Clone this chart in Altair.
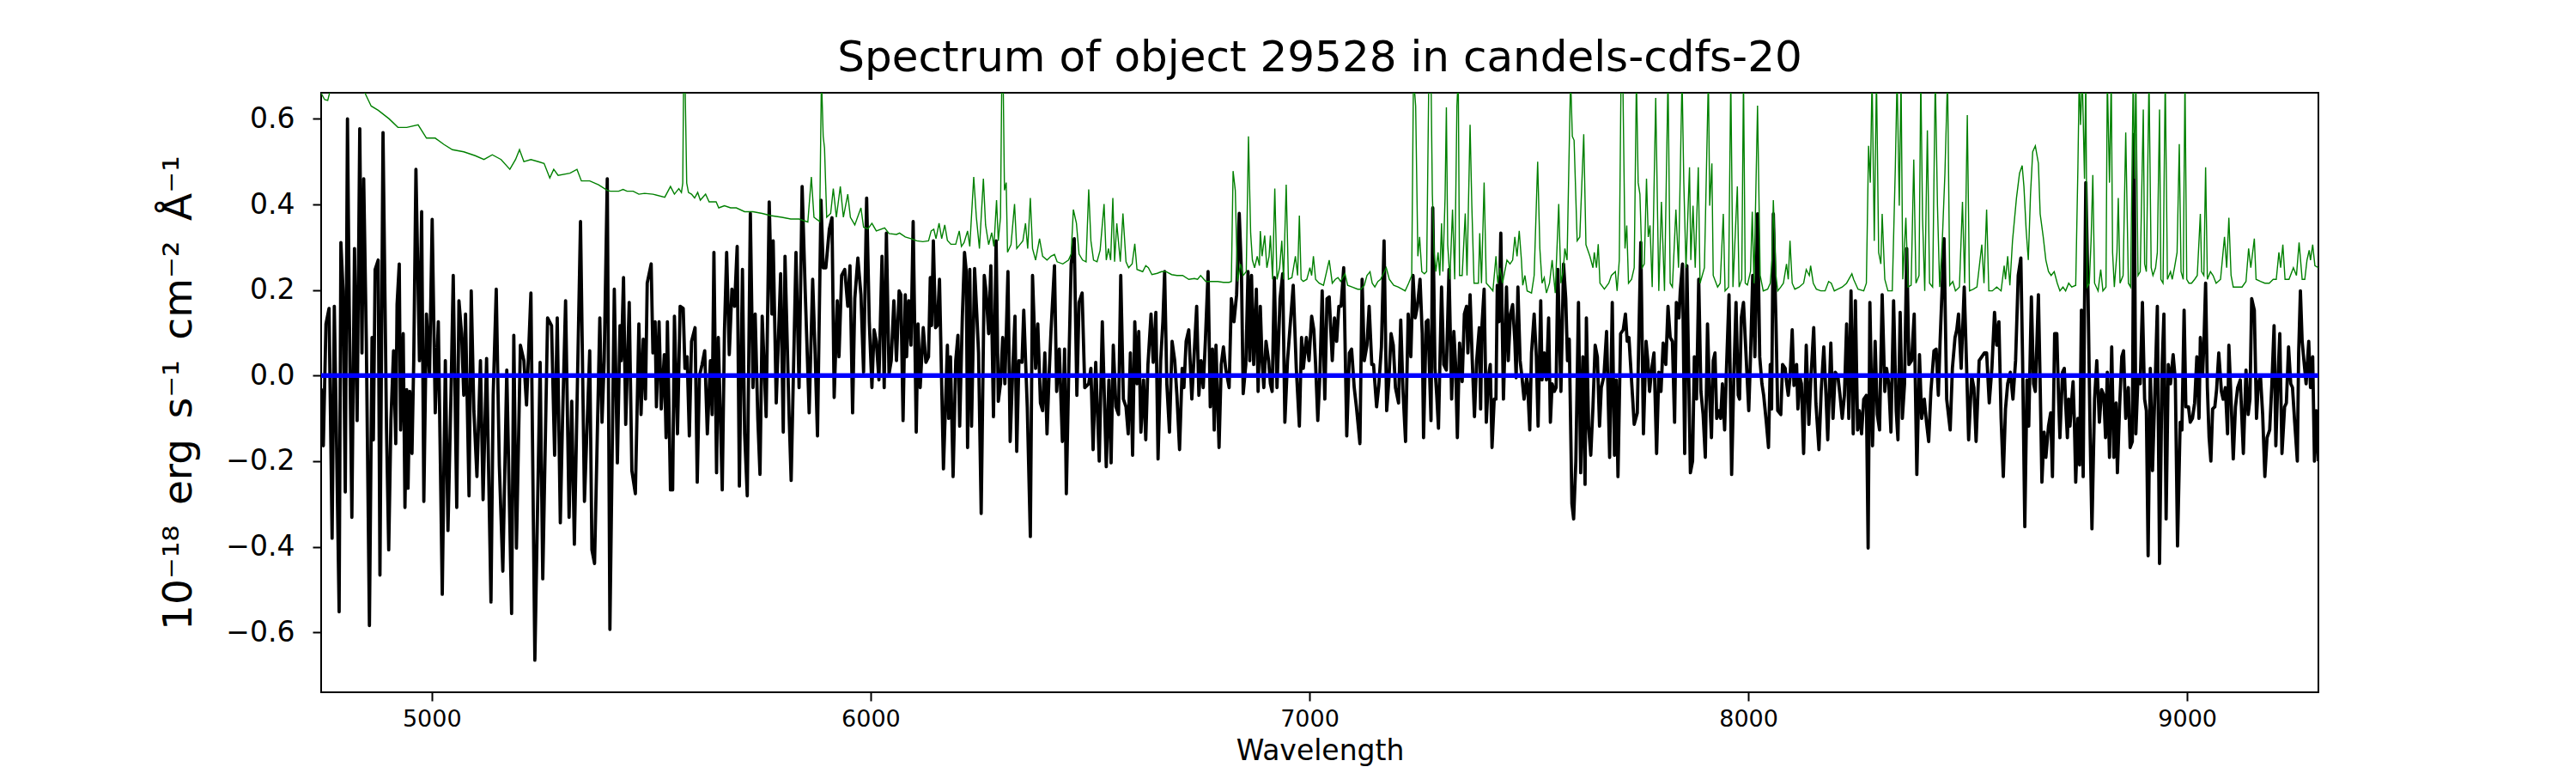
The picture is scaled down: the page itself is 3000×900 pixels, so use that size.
import altair as alt
import pandas as pd

# ---------------- data ----------------
flux_wave = [
 4748,4753,4759,4766,4773,4778,4782,4789,4793,4798,4803,4808,4812,4818,4824,4830,4836,4841,4845,4851,
 4858,4864,4867,4871,4878,4882,4889,4897,4902,4907,4913,4918,4921,4926,4929,4935,4939,4943,4946,4950,
 4955,4959,4964,4972,4977,4982,4988,4995,5001,5008,5015,5024,5031,5037,5044,5049,5057,5062,5068,5073,
 5077,5085,5090,5096,5103,5111,5117,5125,5135,5140,5147,5154,5162,5171,5182,5187,5193,5202,5210,5216,
 5226,5235,5247,5253,5264,5273,5280,5286,5293,5298,5305,5313,5319,5325,5339,5348,5360,5365,5371,5383,
 5388,5393,5400,5406,
 5416,5423,5429,5432,5437,5442,5450,5456,5464,5472,5477,5482,5487,5491,5500,5504,5509,5512,5518,5523,
 5530,5534,5537,5544,5549,5553,5560,5566,5573,5577,5582,5587,5592,5600,5605,5610,5616,5622,5628,5635,
 5639,5643,5649,5653,5662,5667,5672,5678,5684,5690,5696,5701,5708,5713,5719,5726,5732,5737,5743,5748,
 5753,5762,5769,5775,5778,5785,5795,5801,5805,5814,5819,5830,5837,5844,5851,5860,5868,5873,5879,5887,
 5892,5898,5906,5912,5917,5924,5928,5934,5941,5948,5953,5959,5964,5971,5978,5984,5991,5997,6003,6008,
 6013,6019,6026,6031,6036,6042,6047,6053,6059,6065,
 6069,6074,6079,6082,6087,6092,6097,6104,6108,6113,6120,6126,6132,6136,6139,6143,6148,6152,6157,6166,
 6175,6178,6182,6188,6194,6199,6203,6209,6214,6218,6221,6226,6230,6237,6242,6246,6252,6259,6263,6269,
 6274,6280,6286,6291,6296,6301,6306,6313,6318,6324,6329,6333,6338,6345,6349,6357,6364,6369,6376,6381,
 6387,6392,6397,6402,6406,6411,6419,6424,6430,6437,6442,6446,6452,6457,6464,6470,6475,6482,6488,6497,
 6502,6507,6513,6521,6528,6537,6543,6548,6553,6559,6565,6570,6576,6582,6587,6592,6597,6602,6607,6611,
 6616,6622,6627,6632,6639,6644,6650,6655,6661,6666,6670,6675,6681,6687,6693,6698,6704,6710,6714,6719,
 6725,
 6732,6737,6743,6748,6753,6758,6763,6769,6774,6779,6783,6787,6794,6799,6804,6809,6817,6822,6828,6834,
 6840,6845,6849,6855,6860,6864,6868,6873,6879,6883,6888,6892,6896,6901,6907,6911,6915,6920,6926,6933,
 6939,6944,6950,6957,6963,6970,6977,6982,6986,6993,6999,7005,7010,7014,7019,7024,7029,7035,7040,7045,
 7052,7057,7062,7067,7072,7078,7085,7091,7096,7102,7107,7115,7120,7125,7131,7136,7142,7146,7153,7158,
 7164,7170,7176,7181,7186,7191,7196,7203,7208,7213,7219,7225,7231,7236,7241,7246,7252,7257,7260,7266,
 7270,7277,7281,7286,7290,7294,7301,7306,7312,7318,7324,7329,7333,7337,7342,7348,7353,7358,7361,7366,
 7371,7376,7381,
 7387,7390,7393,7398,7403,7408,7412,7416,7421,7425,7428,7432,7436,7442,7449,7453,7458,7463,7468,7471,
 7475,7480,7484,7489,7495,7497,7502,7506,7512,7517,7521,7527,7530,7535,7540,7545,7549,7553,7558,7562,
 7566,7573,7579,7584,7588,7592,7598,7602,7607,7613,7618,7623,7628,7631,7636,7641,7646,7651,7656,7661,
 7665,7671,7677,7684,7690,7695,7699,7703,7709,7715,7720,7724,7728,7736,7740,7747,7755,7761,7767,7771,
 7775,7780,7785,7791,7796,7801,7806,7812,7817,7822,7827,7832,7836,7842,7845,7850,7855,7860,7864,7868,
 7873,7877,7882,7887,7892,7897,7902,7907,7912,7916,7920,7924,7928,7933,7937,7941,7946,7950,7956,7962,
 7967,7972,7977,7980,7984,7989,7995,8001,8005,8010,8015,8021,8026,8031,8035,8041,
 8046,8050,8053,8057,8063,8067,8074,8078,8084,8087,8091,8095,8100,8104,8110,8113,8117,8121,8126,8132,
 8138,8142,8149,8154,8161,8166,8172,8177,8181,8188,8193,8198,8204,8209,8214,8219,8224,8229,8234,8239,
 8244,8249,8253,8258,8263,8269,8273,8277,8283,8289,8294,8299,8305,8311,8315,8320,8325,8331,8337,8341,
 8346,8351,8356,8361,8366,8372,8378,8384,8390,8395,8401,8406,8411,8416,8423,8428,8433,8437,8446,8452,
 8460,8465,8471,8475,8479,8485,8492,8497,8502,8509,8514,8519,8526,8532,8538,8543,8549,8555,8561,8566,
 8571,8576,8581,8586,8591,8597,8603,8609,8615,8621,8625,8630,8635,8639,8645,8650,8654,8661,8665,8669,
 8674,8678,8684,8689,8693,8698,8703,
 8707,8710,8716,8720,8723,8727,8730,8733,8737,8740,8743,8746,8751,8755,8759,8763,8766,8769,8774,8779,
 8783,8789,8794,8800,8805,8810,8814,8818,8823,8828,8833,8838,8841,8846,8851,8855,8860,8866,8870,8875,
 8879,8883,8888,8893,8898,8903,8907,8911,8916,8921,8928,8932,8937,8943,8947,8952,8957,8962,8968,8973,
 8978,8984,8988,8993,8997,9003,9007,9012,9017,9022,9027,9030,9035,9038,9042,9046,9050,9054,9058,9063,
 9067,9072,9078,9082,9087,9092,9095,9100,9105,9110,9115,9121,9128,9134,9139,9143,9147,9153,9158,9162,
 9167,9172,9177,9182,9188,9193,9198,9202,9207,9211,9216,9222,9226,9231,9236,9240,9245,9251,9254,9258,
 9262,9266,9271,9277,9281,9286,9290,9294,9299,
]
flux_value = [
 -0.03,-0.164,0.121,0.157,-0.380,0.162,-0.082,-0.552,0.311,0.198,-0.272,0.600,0.162,-0.331,0.297,-0.105,0.577,0.053,0.460,0.080,
 -0.584,0.089,-0.150,0.248,0.270,-0.466,0.568,-0.127,-0.407,-0.105,0.058,-0.159,0.166,0.261,-0.127,0.098,-0.308,-0.033,-0.263,-0.037,
 -0.182,0.035,0.482,0.035,0.383,-0.294,0.144,-0.001,0.365,-0.087,0.126,-0.511,0.035,-0.362,-0.037,0.234,-0.308,0.175,0.098,-0.046,
 0.144,-0.281,0.198,-0.082,-0.236,0.035,-0.290,0.040,-0.529,-0.046,0.202,-0.209,-0.457,0.013,-0.556,0.094,-0.403,0.071,0.035,-0.069,
 0.193,-0.665,0.031,-0.475,0.135,0.117,-0.186,0.135,-0.344,-0.105,0.175,-0.331,-0.060,-0.394,0.360,-0.294,0.058,-0.407,-0.439,0.135,
 -0.109,0.035,0.460,-0.593,
 0.202,-0.204,0.117,0.035,0.229,-0.114,0.171,-0.222,-0.276,0.121,-0.091,0.085,-0.055,0.216,0.261,0.053,0.126,-0.073,0.126,-0.078,
 0.049,-0.145,0.126,-0.267,-0.267,0.139,-0.136,0.162,0.157,0.017,0.044,-0.141,0.080,0.112,-0.249,-0.001,0.026,0.058,-0.136,0.035,
 -0.091,0.288,-0.227,0.089,-0.267,0.103,0.288,0.049,0.202,0.162,0.302,-0.258,0.248,-0.136,-0.281,0.379,-0.028,0.144,-0.100,-0.231,
 0.139,-0.096,0.406,0.144,0.315,-0.064,0.238,-0.132,0.279,-0.082,-0.245,0.288,-0.028,0.442,0.198,-0.087,0.225,0.071,-0.141,0.410,
 0.252,0.252,0.342,0.369,-0.051,0.175,0.044,0.234,0.248,0.162,0.257,-0.087,0.180,0.275,0.189,0.008,0.415,0.126,-0.028,0.107,
 0.080,-0.010,0.279,-0.028,0.333,0.004,0.035,0.175,0.035,0.198,
 0.189,-0.105,0.189,0.044,0.175,0.071,0.360,-0.132,0.121,-0.028,0.112,0.031,0.044,0.229,0.117,0.315,0.112,0.117,0.225,-0.218,
 0.071,-0.100,0.044,-0.236,0.035,0.094,-0.118,0.135,0.288,0.243,-0.168,0.248,-0.118,0.250,0.144,0.053,-0.322,0.234,0.198,0.098,
 0.257,-0.096,0.315,-0.060,-0.019,0.089,-0.019,0.243,-0.154,0.017,0.139,-0.177,0.035,0.031,0.153,-0.073,-0.376,0.234,0.017,0.121,
 -0.064,-0.082,0.053,-0.136,-0.019,0.103,0.257,-0.037,0.062,-0.154,0.062,-0.276,0.035,0.261,0.320,-0.046,0.171,0.193,-0.028,-0.019,
 0.017,-0.173,0.031,-0.200,0.126,-0.213,-0.010,-0.204,0.071,-0.073,-0.091,0.234,-0.055,-0.073,-0.136,0.053,-0.186,0.126,-0.019,0.103,
 -0.132,-0.010,-0.150,0.026,0.144,0.031,0.148,-0.195,0.035,0.126,0.243,-0.019,-0.132,0.080,0.035,-0.046,-0.173,0.017,-0.028,0.080,
 0.107,
 -0.055,0.044,0.162,-0.046,0.035,-0.028,0.085,0.243,-0.073,0.062,-0.127,0.071,-0.168,0.026,0.067,0.017,-0.028,0.180,0.126,0.189,
 0.379,0.243,-0.042,0.026,0.243,0.035,0.234,0.026,0.202,-0.037,0.162,0.035,-0.028,0.080,0.035,-0.019,-0.037,0.229,-0.028,0.180,
 0.238,-0.109,0.035,0.130,0.211,0.017,-0.118,0.089,0.017,0.089,0.035,0.139,0.107,0.026,-0.105,0.008,0.198,-0.055,0.180,0.184,
 0.035,0.135,0.080,0.162,0.162,0.252,-0.141,0.053,0.062,-0.028,-0.073,-0.159,0.225,0.035,0.071,0.162,0.026,0.026,-0.073,-0.023,
 0.067,0.315,-0.082,-0.010,0.098,0.071,-0.028,-0.064,0.130,-0.033,-0.154,0.144,0.044,0.234,0.135,0.162,0.225,0.098,-0.145,0.126,
 0.130,-0.105,0.392,0.017,-0.046,-0.123,0.207,0.026,0.013,0.248,-0.055,0.103,0.026,-0.145,0.076,-0.014,0.144,0.162,0.053,0.189,
 0.035,-0.096,0.035,
 0.112,-0.078,0.117,0.202,-0.109,-0.001,0.026,-0.168,-0.055,-0.055,0.211,0.126,0.333,-0.055,0.207,0.035,0.144,0.166,0.080,-0.005,
 0.207,0.035,-0.001,-0.055,-0.005,-0.019,-0.127,0.053,0.144,0.044,-0.118,0.175,-0.010,0.053,-0.010,0.135,-0.109,-0.019,-0.037,-0.028,
 0.248,-0.037,0.261,0.180,0.035,0.085,-0.299,-0.335,-0.200,0.171,-0.227,0.044,-0.254,0.135,-0.118,-0.186,-0.073,0.071,0.044,-0.118,
 -0.028,-0.001,0.103,-0.191,0.171,-0.186,-0.010,-0.236,0.098,0.107,0.144,0.080,0.089,-0.046,-0.114,-0.087,0.311,-0.136,0.080,0.035,
 -0.037,0.017,0.053,-0.182,0.008,-0.037,0.076,0.026,0.162,0.089,0.080,-0.109,0.171,0.135,0.198,0.261,-0.182,0.257,0.017,-0.227,
 -0.200,0.044,-0.055,0.225,-0.037,-0.091,-0.191,0.121,-0.055,-0.145,0.035,0.053,-0.100,-0.082,-0.100,-0.019,-0.127,0.008,0.189,-0.231,
 -0.001,0.171,-0.046,-0.055,0.135,0.171,0.044,-0.082,0.044,0.234,0.044,0.378,0.044,-0.019,-0.046,-0.109,
 -0.168,0.026,-0.078,0.378,0.126,-0.082,-0.091,0.026,0.017,-0.014,-0.046,-0.005,0.107,-0.023,0.026,-0.078,-0.001,-0.019,-0.182,0.071,
 -0.114,-0.019,0.112,-0.064,-0.173,-0.037,0.067,-0.046,-0.150,0.076,-0.100,0.008,-0.001,-0.046,-0.100,-0.046,0.121,-0.100,0.198,-0.136,
 0.175,-0.127,-0.082,-0.136,-0.055,-0.046,-0.403,0.171,-0.164,0.080,-0.091,-0.127,0.189,-0.037,0.017,-0.019,-0.132,0.175,-0.082,-0.150,
 0.148,-0.100,-0.019,0.297,0.026,0.035,0.144,-0.231,0.049,-0.100,-0.055,-0.109,-0.154,-0.037,0.058,0.062,-0.046,0.080,0.320,-0.055,
 -0.127,0.017,0.089,0.107,0.144,0.017,0.207,0.035,-0.150,-0.001,-0.028,-0.154,0.035,0.044,0.053,0.053,-0.064,0.017,0.148,0.071,
 0.126,-0.100,-0.236,-0.078,-0.019,0.008,-0.055,0.035,0.234,0.275,0.035,-0.353,-0.010,-0.118,0.184,-0.019,-0.037,0.189,-0.019,-0.249,
 -0.132,-0.191,-0.118,-0.087,-0.236,0.098,0.098,
 -0.055,-0.145,0.008,0.017,-0.064,-0.145,-0.055,-0.118,-0.055,-0.014,-0.109,-0.249,-0.100,-0.209,0.153,-0.236,0.153,0.451,0.198,-0.145,
 -0.358,-0.055,0.035,-0.109,-0.033,-0.046,-0.145,0.008,-0.191,0.067,-0.191,-0.064,-0.227,-0.073,0.044,0.058,-0.100,-0.028,-0.168,-0.154,
 0.564,-0.136,-0.001,-0.019,0.171,-0.055,-0.082,-0.421,0.017,-0.222,0.017,0.162,-0.439,0.026,0.144,-0.335,0.026,-0.019,0.049,-0.010,
 -0.398,-0.109,-0.127,0.153,-0.073,-0.073,-0.109,-0.100,-0.064,0.044,-0.100,0.089,-0.001,0.071,0.216,-0.028,-0.145,-0.200,-0.078,-0.073,
 -0.033,0.053,-0.037,-0.055,-0.028,-0.136,0.071,-0.055,-0.195,-0.073,-0.028,-0.010,-0.182,0.013,-0.091,-0.055,0.180,0.153,-0.100,-0.019,
 -0.001,-0.091,-0.236,-0.145,-0.127,-0.019,0.117,-0.164,-0.001,0.098,-0.182,-0.073,-0.064,0.067,-0.019,-0.028,-0.109,-0.200,0.053,0.198,
 0.080,0.035,-0.019,0.080,-0.028,0.044,-0.200,-0.082,-0.200,
]

sky_wave = [
 4748,4756,4763,4772,4800,4830,4848,4862,4878,4903,4923,4943,4969,4988,5008,5028,5047,5073,5099,5119,
 5138,5158,5178,5191,5200,5210,5226,5243,5256,5269,5278,5288,5315,5331,5341,5360,5380,5400,
 5407,5426,5436,5445,5459,5472,5485,5504,5531,5544,5553,5563,5569,5572,5574,5577,5581,5585,5592,5599,
 5606,5612,5624,5632,5648,5654,5667,5681,5694,5713,5732,5753,5772,5798,5818,5837,5857,5865,5871,5884,
 5888,5892,5895,5900,5909,5915,5922,5931,5938,5948,5954,5964,5978,5984,5994,6003,6013,6032,6042,6059,
 6066,6079,6092,6105,6119,6132,6138,6144,6149,6156,6162,6169,6175,6183,6194,6202,6207,6213,6221,6226,
 6235,6241,6248,6257,6262,6269,6276,6281,6287,6291,6296,6299,6302,6305,6309,6312,6320,6328,6333,6340,
 6347,6353,6358,6364,6369,6376,6385,6392,6402,6411,6419,6425,6438,6451,6457,6462,6469,6475,6483,6491,
 6497,6502,6508,6516,6523,6532,6537,6542,6547,6552,6556,6561,6569,6575,6582,6588,6596,6602,6607,6620,
 6627,6633,6641,6653,6663,6673,6686,6698,6711,
 6725,6738,6745,6752,6764,6778,6791,6804,6817,6822,6826,6831,6836,6843,6849,6856,6861,6866,6870,6875,
 6881,6886,6888,6892,6898,6903,6908,6911,6916,6921,6926,6932,6937,6941,6947,6952,6960,6968,6973,6977,
 6981,6986,6994,7001,7005,7009,7014,7022,7032,7045,7052,7059,7065,7071,7081,7087,7097,7110,7117,7125,
 7131,7138,7143,7149,7156,7162,7175,7182,7192,7202,7211,7218,7226,7233,7237,7242,7247,7251,7256,7262,
 7267,7272,7277,7280,7284,7288,7293,7297,7301,7304,7309,7312,7315,7320,7326,7331,7336,7339,7342,7348,
 7355,7359,7366,7370,7375,
 7385,7388,7392,7398,7403,7411,7418,7425,7429,7434,7440,7450,7457,7463,7468,7473,7478,7483,7486,7491,
 7496,7506,7512,7520,7525,7530,7535,7540,7547,7553,7560,7568,7573,7578,7582,7587,7595,7599,7603,7610,
 7616,7625,7630,7639,7646,7649,7654,7658,7662,7672,7682,7688,7697,7701,7706,7710,7714,7719,7723,7727,
 7734,7740,7745,7749,7753,7758,7763,7768,7772,7776,7781,7789,7796,7802,7809,7817,7822,7827,7835,7841,
 7849,7853,7858,7866,7869,7874,7879,7886,7890,7900,7909,7912,7917,7920,7930,7936,7943,7947,7955,7960,
 7965,7975,7979,7985,7989,7993,7998,8005,8009,8013,8021,8027,8034,
 8044,8050,8054,8057,8063,8067,8074,8080,8087,8091,8095,8100,8106,8116,8126,8132,8139,8142,8148,8155,
 8165,8175,8183,8189,8196,8204,8214,8224,8236,8240,8250,8263,8269,8274,8278,8282,8287,8292,8297,8302,
 8305,8311,8318,8328,8335,8339,8344,8348,8352,8359,8364,8371,8377,8382,8389,8393,8397,8402,8408,8413,
 8420,8426,8431,8436,8442,8448,8454,8459,8466,8472,8481,8488,8493,8499,8504,8513,8521,8532,8537,8543,
 8548,8556,8566,8576,8583,8586,8591,8596,8602,8611,8618,8624,8628,8633,8638,8643,8648,8654,8661,8665,
 8672,8678,8684,8690,8697,
 8704,8710,8717,8723,8730,8737,8746,8751,8754,8757,8761,8766,8769,8772,8777,8781,8785,8789,8797,8803,
 8808,8815,8818,8823,8827,8830,8834,8840,8843,8847,8854,8860,8866,8871,8877,8880,8883,8888,8893,8900,
 8903,8907,8913,8918,8922,8928,8932,8937,8940,8945,8950,8955,8962,8966,8971,8977,8982,8986,8991,8995,
 8999,9004,9010,9017,9023,9030,9033,9038,9042,9046,9053,9059,9066,9076,9085,9090,9095,9100,9105,9115,
 9125,9134,9140,9145,9153,9157,9167,9177,9187,9196,9203,9209,9213,9218,9223,9232,9242,9249,9255,9262,
 9268,9273,9278,9281,9286,9291,9299,
]
sky_value = [
 0.660,0.645,0.643,0.680,0.720,0.700,0.660,0.630,0.620,0.600,0.580,0.580,0.586,0.555,0.555,0.540,0.528,0.523,0.514,0.505,
 0.516,0.505,0.482,0.505,0.528,0.500,0.505,0.500,0.496,0.462,0.482,0.468,0.473,0.482,0.455,0.455,0.446,0.433,
 0.431,0.431,0.435,0.431,0.431,0.424,0.426,0.424,0.417,0.442,0.424,0.437,0.428,0.450,0.700,0.700,0.450,0.428,0.424,0.415,
 0.428,0.410,0.424,0.406,0.406,0.392,0.397,0.392,0.392,0.383,0.383,0.379,0.374,0.370,0.366,0.366,0.359,0.464,0.370,0.360,
 0.700,0.559,0.532,0.370,0.379,0.437,0.370,0.442,0.370,0.424,0.370,0.352,0.392,0.347,0.343,0.356,0.338,0.345,0.332,0.330,
 0.333,0.324,0.320,0.315,0.313,0.315,0.338,0.342,0.320,0.356,0.320,0.352,0.316,0.307,0.307,0.338,0.302,0.311,0.338,0.302,
 0.464,0.370,0.297,0.460,0.352,0.306,0.334,0.302,0.410,0.315,0.370,0.700,0.700,0.433,0.451,0.288,0.306,0.401,0.297,0.306,
 0.315,0.356,0.297,0.415,0.297,0.270,0.320,0.279,0.270,0.279,0.283,0.266,0.261,0.270,0.284,0.388,0.356,0.284,0.270,0.266,
 0.435,0.315,0.270,0.266,0.293,0.401,0.270,0.297,0.270,0.415,0.266,0.356,0.266,0.379,0.266,0.252,0.261,0.308,0.248,0.243,
 0.257,0.252,0.236,0.239,0.243,0.243,0.236,0.234,0.234,
 0.225,0.227,0.225,0.234,0.220,0.220,0.220,0.218,0.218,0.220,0.478,0.433,0.220,0.261,0.234,0.243,0.559,0.333,0.270,0.252,
 0.279,0.257,0.338,0.279,0.327,0.252,0.279,0.327,0.225,0.437,0.225,0.252,0.315,0.225,0.446,0.225,0.229,0.279,0.234,0.374,
 0.225,0.220,0.225,0.252,0.234,0.279,0.225,0.216,0.211,0.270,0.216,0.225,0.229,0.220,0.238,0.211,0.207,0.202,0.202,0.211,
 0.234,0.243,0.216,0.207,0.220,0.225,0.252,0.225,0.211,0.207,0.202,0.198,0.216,0.234,0.700,0.630,0.279,0.324,0.243,0.238,
 0.243,0.700,0.700,0.424,0.288,0.243,0.288,0.234,0.356,0.243,0.415,0.627,0.306,0.225,0.388,0.225,0.630,0.700,0.234,0.234,
 0.379,0.234,0.586,0.397,0.216,
 0.216,0.333,0.216,0.451,0.216,0.207,0.198,0.279,0.216,0.252,0.216,0.270,0.261,0.270,0.324,0.279,0.338,0.270,0.211,0.234,
 0.198,0.193,0.234,0.500,0.297,0.216,0.229,0.193,0.216,0.270,0.193,0.401,0.216,0.243,0.297,0.270,0.700,0.559,0.550,0.315,
 0.324,0.564,0.306,0.279,0.252,0.288,0.252,0.307,0.216,0.202,0.216,0.234,0.243,0.198,0.270,0.700,0.700,0.297,0.351,0.216,
 0.225,0.252,0.700,0.451,0.424,0.252,0.261,0.460,0.324,0.351,0.207,0.649,0.198,0.406,0.198,0.700,0.216,0.207,0.388,0.252,
 0.700,0.451,0.252,0.487,0.270,0.397,0.252,0.487,0.216,0.252,0.700,0.397,0.496,0.234,0.207,0.216,0.378,0.198,0.207,0.700,
 0.207,0.442,0.207,0.225,0.700,0.216,0.212,0.243,0.383,0.216,0.631,0.234,0.198,
 0.202,0.216,0.270,0.410,0.234,0.198,0.207,0.216,0.261,0.225,0.315,0.216,0.202,0.207,0.216,0.248,0.234,0.257,0.216,0.202,
 0.198,0.198,0.220,0.216,0.198,0.202,0.207,0.216,0.238,0.225,0.202,0.198,0.216,0.537,0.451,0.700,0.315,0.700,0.288,0.261,
 0.378,0.225,0.198,0.198,0.487,0.700,0.397,0.700,0.225,0.369,0.207,0.211,0.505,0.216,0.234,0.700,0.369,0.198,0.573,0.216,
 0.207,0.700,0.397,0.207,0.315,0.473,0.700,0.211,0.220,0.198,0.207,0.406,0.216,0.609,0.198,0.202,0.207,0.306,0.216,0.388,
 0.198,0.198,0.207,0.198,0.257,0.225,0.279,0.211,0.315,0.415,0.473,0.491,0.442,0.342,0.270,0.423,0.523,0.537,0.496,0.378,
 0.324,0.270,0.243,0.234,0.243,
 0.216,0.198,0.207,0.198,0.216,0.207,0.211,0.487,0.700,0.586,0.700,0.460,0.700,0.207,0.216,0.315,0.469,0.216,0.198,0.248,
 0.198,0.207,0.700,0.451,0.700,0.288,0.207,0.288,0.415,0.216,0.234,0.568,0.216,0.207,0.700,0.460,0.700,0.234,0.243,0.622,
 0.261,0.243,0.700,0.252,0.234,0.252,0.288,0.622,0.225,0.216,0.700,0.225,0.243,0.225,0.252,0.288,0.541,0.243,0.225,0.700,
 0.225,0.216,0.216,0.225,0.234,0.378,0.243,0.234,0.487,0.225,0.243,0.234,0.216,0.225,0.324,0.252,0.369,0.234,0.207,0.207,
 0.207,0.220,0.297,0.252,0.320,0.225,0.220,0.216,0.216,0.225,0.225,0.288,0.252,0.306,0.225,0.225,0.252,0.234,0.311,0.225,
 0.225,0.270,0.293,0.270,0.306,0.257,0.252,
]

zero_level = [0.0]
x_ticks = [5000, 6000, 7000, 8000, 9000]
y_ticks = [-0.6, -0.4, -0.2, 0.0, 0.2, 0.4, 0.6]
title_text = "Spectrum of object 29528 in candels-cdfs-20"
x_title = "Wavelength"
y_title = "10\u207b\u00b9\u2078\u2002erg\u2002s\u207b\u00b9\u2002cm\u207b\u00b2\u2002\u00c5\u207b\u00b9"

# ---------------- chart ----------------
FONT = "DejaVu Sans"
W, H = 2326, 698

flux_df = pd.DataFrame({"wavelength": flux_wave, "flux": flux_value})
sky_df = pd.DataFrame({"wavelength": sky_wave, "flux": sky_value})
zero_df = pd.DataFrame({"flux": zero_level})

xscale = alt.Scale(domain=[4748, 9299], nice=False, zero=False)
yscale = alt.Scale(domain=[-0.740, 0.661], nice=False, zero=False)

xaxis = alt.Axis(
    title=x_title, values=x_ticks, format="d", grid=False, domain=False,
    tickSize=10, tickWidth=2, tickColor="black",
    labelFont=FONT, labelFontSize=27, labelColor="black", labelPadding=8,
    titleFont=FONT, titleFontSize=33, titleFontWeight="normal", titleColor="black",
    titleX=W / 2, titleY=78, titleAlign="center", titleBaseline="alphabetic",
)
yaxis = alt.Axis(
    title=y_title, values=y_ticks, format=".1f", grid=False, domain=False,
    tickSize=10, tickWidth=2, tickColor="black",
    labelFont=FONT, labelFontSize=33, labelColor="black", labelPadding=21,
    titleFont=FONT, titleFontSize=47, titleFontWeight="normal", titleColor="black",
    titleX=-166, titleY=H / 2, titleAlign="center", titleBaseline="middle", titleAngle=270,
)

flux_line = alt.Chart(flux_df).mark_line(
    color="black", strokeWidth=3.8, clip=True, strokeJoin="round"
).encode(
    x=alt.X("wavelength:Q", scale=xscale, axis=xaxis),
    y=alt.Y("flux:Q", scale=yscale, axis=yaxis),
)

sky_line = alt.Chart(sky_df).mark_line(
    color="#008000", strokeWidth=1.4, clip=True
).encode(
    x=alt.X("wavelength:Q", scale=xscale),
    y=alt.Y("flux:Q", scale=yscale),
)

zero_line = alt.Chart(zero_df).mark_rule(
    color="#0000ff", strokeWidth=5.5
).encode(
    y=alt.Y("flux:Q", scale=yscale),
)

chart = alt.layer(flux_line, sky_line, zero_line).properties(
    width=W, height=H,
    title=alt.Title(text=title_text, font=FONT, fontSize=50, fontWeight="normal",
                    color="black", anchor="middle", baseline="alphabetic",
                    offset=25, dy=50),
    padding={"left": 366, "top": 100, "right": 280, "bottom": 86},
    autosize="none",
).configure_view(stroke="black", strokeWidth=2)

chart.save("out.html", embed_options={"renderer": "svg", "actions": False})
